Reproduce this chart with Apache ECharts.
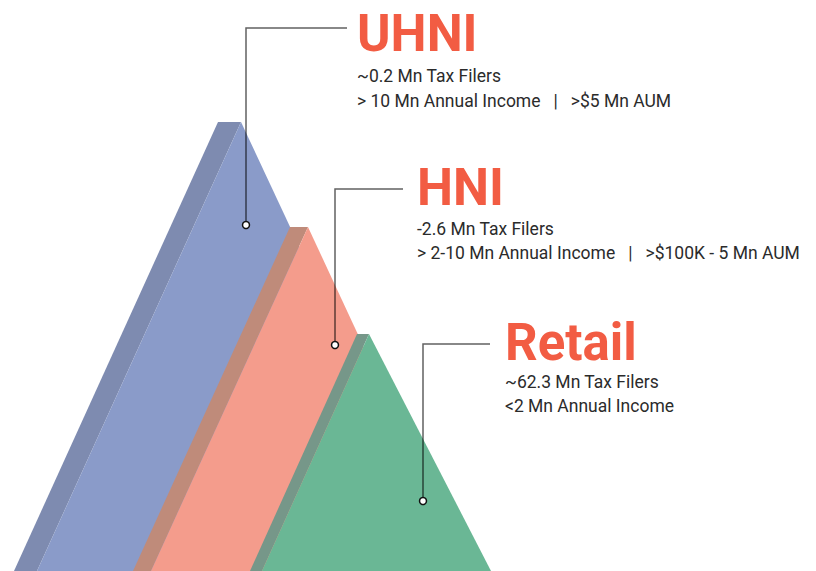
<!DOCTYPE html>
<html>
<head>
<meta charset="utf-8">
<script src="https://cdn.jsdelivr.net/npm/echarts@6/dist/echarts.min.js"></script>
<style>
  html, body { margin: 0; padding: 0; background: #fff; }
  #chart { width: 816px; height: 571px; }
</style>
</head>
<body>
<div id="chart"></div>
<script>
// tiers of the wealth pyramid
const tiers = ['UHNI', 'HNI', 'Retail'];
const taxFilers = ['~0.2 Mn Tax Filers', '-2.6 Mn Tax Filers', '~62.3 Mn Tax Filers'];
const incomeBands = [
  '> 10 Mn Annual Income   |   >$5 Mn AUM',
  '> 2-10 Mn Annual Income   |   >$100K - 5 Mn AUM',
  '<2 Mn Annual Income'
];

// mountain shapes, in axis units (x across, y = height above base)
const peakHeight = [449, 344, 237];
const peakLeft = [218, 290, 357];
const peakRight = [241, 308, 369];
const baseLeft = [14, 133, 250];
const baseInner = [37, 151, 262];
const baseRight = [451, 468, 491];

// callout anchors (dot position) and elbow height
const anchorX = [246, 335, 423];
const anchorY = [346, 226, 70];
const elbowY = [543, 382, 227];

const faceColors = ['#8a9bc9', '#f49c8c', '#6ab795'];
const shadeColors = ['#7e8bb0', '#bf8b7a', '#769789'];

// text placement per callout (pixel offsets)
const layout = [
  { elbowEnd: 347, textX: 357, titleY: 33, line1: 76, line2: 101 },
  { elbowEnd: 403, textX: 417, titleY: 187, line1: 229, line2: 253 },
  { elbowEnd: 490, textX: 505, titleY: 342, line1: 382, line2: 406 }
];

const chart = echarts.init(document.getElementById('chart'), null, { renderer: 'svg' });

const option = {
  animation: false,
  grid: { left: 0, right: 0, top: 0, bottom: 0 },
  xAxis: { type: 'value', min: 0, max: 816, show: false },
  yAxis: { type: 'value', min: 0, max: 571, show: false },
  series: [
    {
      type: 'custom',
      name: 'mountains',
      data: tiers.map((t, i) => [i]),
      renderItem: (params, api) => {
        const i = api.value(0);
        const h = peakHeight[i];
        const pL = api.coord([peakLeft[i], h]);
        const pR = api.coord([peakRight[i], h]);
        const bL = api.coord([baseLeft[i], 0]);
        const bI = api.coord([baseInner[i], 0]);
        const bR = api.coord([baseRight[i], 0]);
        return {
          type: 'group',
          children: [
            { type: 'polygon', shape: { points: [pL, pR, bI, bL] }, style: { fill: shadeColors[i] } },
            { type: 'polygon', shape: { points: [pR, bR, bI] }, style: { fill: faceColors[i] } }
          ]
        };
      }
    },
    {
      type: 'custom',
      name: 'callouts',
      z: 5,
      data: tiers.map((t, i) => [anchorX[i], anchorY[i]]),
      renderItem: (params, api) => {
        const i = params.dataIndex;
        const L = layout[i];
        const a = api.coord([api.value(0), api.value(1)]);
        const e = api.coord([anchorX[i], elbowY[i]]);
        const end = api.coord([L.elbowEnd, elbowY[i]]);
        const children = [
          {
            type: 'polyline',
            shape: { points: [a, e, end] },
            style: { stroke: 'rgba(0,0,0,0.62)', lineWidth: 1.5, fill: null }
          },
          {
            type: 'circle',
            shape: { cx: a[0], cy: a[1], r: 3.5 },
            style: { fill: '#fff', stroke: '#111', lineWidth: 1.5 }
          },
          {
            type: 'text',
            style: {
              x: L.textX, y: L.titleY, text: tiers[i],
              fill: '#f25c43', font: 'bold 51px Roboto',
              verticalAlign: 'middle'
            }
          },
          {
            type: 'text',
            style: {
              x: L.textX, y: L.line1, text: taxFilers[i],
              fill: '#2b2b2b', font: '17.5px Roboto', verticalAlign: 'middle'
            }
          },
          {
            type: 'text',
            style: {
              x: L.textX, y: L.line2, text: incomeBands[i],
              fill: '#2b2b2b', font: '17.5px Roboto', verticalAlign: 'middle'
            }
          }
        ];
        return { type: 'group', children: children };
      }
    }
  ]
};

chart.setOption(option);
</script>
</body>
</html>
